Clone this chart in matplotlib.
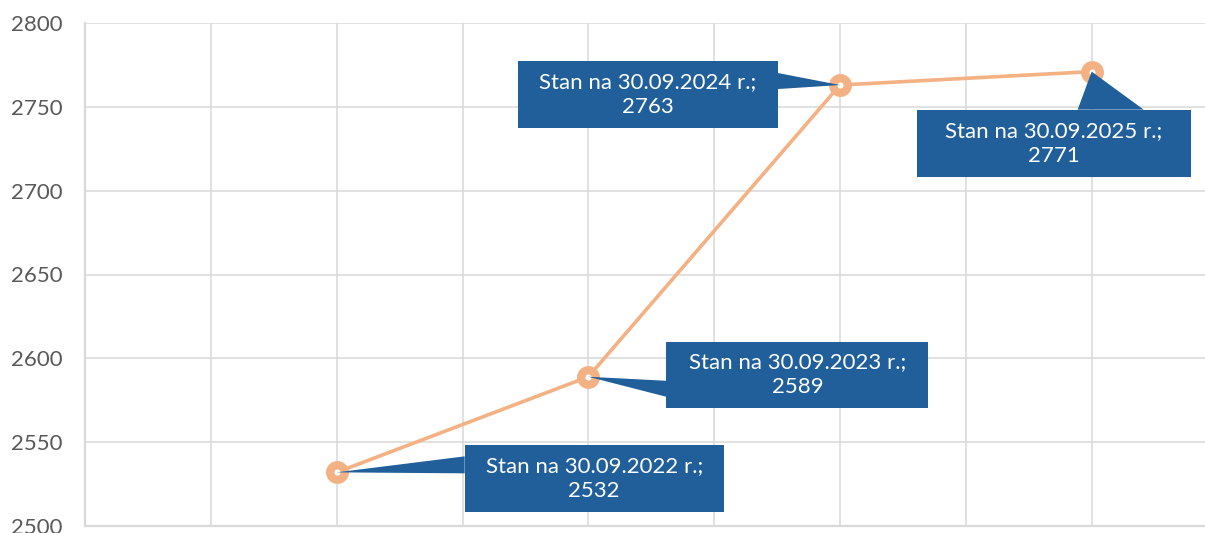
import matplotlib.pyplot as plt
import matplotlib.transforms as mtransforms
from matplotlib.patches import Polygon

# data
positions = [1, 2, 3, 4]
values = [2532, 2589, 2763, 2771]
labels = ["Stan na 30.09.2022 r.;", "Stan na 30.09.2023 r.;",
          "Stan na 30.09.2024 r.;", "Stan na 30.09.2025 r.;"]
y_ticks = [2500, 2550, 2600, 2650, 2700, 2750, 2800]

# callout layout in pixels relative to each point: box (x0, x1, y0, y1), wedge base
boxes = [(128, 387, -40, 27), (78, 340, -31, 35), (-322, -62, -43, 24), (-175, 99, -105, -38)]
wedges = [[(128, 16), (128, -1)], [(78, -4), (78, -20)],
          [(-62, 12), (-62, -4)], [(-14, -38), (52, -38)]]

line_color = "#F4B183"
box_color = "#215F9A"
grid_color = "#D9D9D9"

plt.rcParams['font.family'] = ['Lato', 'DejaVu Sans']

fig = plt.figure(figsize=(12.05, 5.33), dpi=100)
ax = fig.add_axes([85 / 1205, 7 / 533, 1130 / 1205, (526 - 23) / 533])

ax.plot(positions, values, color=line_color, lw=2.6, marker='o', ms=10.5,
        mfc='white', mec=line_color, mew=6, zorder=3)

ax.set_xlim(0, 4.49)
ax.set_ylim(2500, 2800)
ax.set_yticks(y_ticks)
ax.set_xticks([i * 0.5 for i in range(1, 9)])
ax.set_xticklabels([])
ax.grid(True, color=grid_color, lw=1.1)
ax.set_axisbelow(True)
ax.tick_params(axis='both', length=0, labelsize=16, labelcolor='#595959', pad=16)
for side in ['top', 'right']:
    ax.spines[side].set_visible(False)
ax.spines['left'].set_color(grid_color)
ax.spines['left'].set_linewidth(1.6)
ax.spines['bottom'].set_color(grid_color)
ax.spines['bottom'].set_linewidth(1.6)

# callouts
for x, y, lab, (bx0, bx1, by0, by1), wb in zip(positions, values, labels, boxes, wedges):
    px, py = ax.transData.transform((x, y))
    trans = mtransforms.Affine2D().translate(px, py)
    rect = Polygon([(bx0, by0), (bx1, by0), (bx1, by1), (bx0, by1)], closed=True,
                   facecolor=box_color, edgecolor='none', transform=trans, zorder=4, clip_on=False)
    tri = Polygon([(0, 0), wb[0], wb[1]], closed=True, facecolor=box_color,
                  edgecolor='none', transform=trans, zorder=4, clip_on=False)
    ax.add_artist(rect)
    ax.add_artist(tri)
    ax.annotate(f"{lab}\n{y}", (x, y), xytext=((bx0 + bx1) / 2, (by0 + by1) / 2),
                textcoords='offset pixels', ha='center', va='center', color='white',
                fontsize=16, linespacing=1.3, zorder=5)

fig.savefig("out.png", dpi=100)
